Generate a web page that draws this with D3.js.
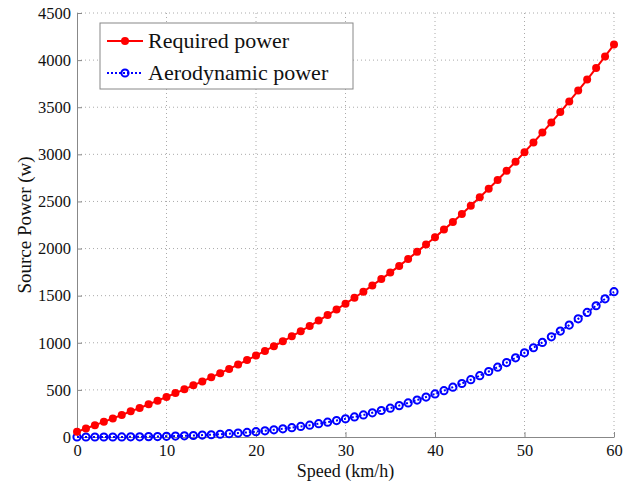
<!DOCTYPE html>
<html>
<head>
<meta charset="utf-8">
<script src="https://cdn.jsdelivr.net/npm/d3@7"></script>
<style>
  body { margin: 0; background: #fff; }
  svg text { font-family: "Liberation Serif", "Times New Roman", serif; }
</style>
</head>
<body>
<div id="chart"></div>
<script>
  var speeds = d3.range(0, 61);
  var requiredPower = [55, 90, 126, 161, 197, 234, 272, 308, 347, 386,
    425, 466, 506, 548, 590, 633, 677, 723, 769, 816,
    864, 913, 964, 1016, 1069, 1123, 1178, 1236, 1294, 1353,
    1415, 1478, 1542, 1609, 1676, 1745, 1816, 1890, 1965, 2042,
    2120, 2201, 2283, 2368, 2455, 2544, 2635, 2728, 2825, 2922,
    3023, 3125, 3231, 3338, 3448, 3561, 3677, 3794, 3915, 4039, 4165];
  var aeroPower = [0, 0, 0, 0, 0, 1, 2, 2, 4, 5,
    7, 10, 12, 16, 20, 24, 29, 35, 42, 49,
    57, 66, 76, 87, 99, 112, 125, 141, 157, 174,
    193, 213, 234, 257, 281, 306, 333, 362, 392, 424,
    457, 492, 529, 568, 608, 651, 695, 741, 790, 840,
    893, 947, 1004, 1063, 1124, 1188, 1254, 1322, 1393, 1466, 1542];
  var xTicks = [0, 10, 20, 30, 40, 50, 60];
  var yTicks = [0, 500, 1000, 1500, 2000, 2500, 3000, 3500, 4000, 4500];
  var seriesNames = ['Required power', 'Aerodynamic power'];

  var width = 643;
  var height = 483;
  var margin = { left: 77, right: 29, top: 13, bottom: 46 };
  var w = width - margin.left - margin.right;
  var h = height - margin.top - margin.bottom;

  var svg = d3.select('#chart')
    .append('svg')
    .attr('width', width)
    .attr('height', height);

  var g = svg.append('g')
    .attr('transform', 'translate(' + margin.left + ',' + margin.top + ')');

  var x = d3.scaleLinear().domain([0, 60]).range([0, w]);
  var y = d3.scaleLinear().domain([0, 4500]).range([h, 0]);

  // dotted grid
  g.append('g')
    .selectAll('line')
    .data(xTicks.slice(1))
    .enter().append('line')
    .attr('x1', function(d) { return x(d); })
    .attr('x2', function(d) { return x(d); })
    .attr('y1', 0).attr('y2', h)
    .attr('stroke', '#aaa')
    .attr('stroke-width', 1)
    .attr('stroke-dasharray', '1,3');

  g.append('g')
    .selectAll('line')
    .data(yTicks.slice(1))
    .enter().append('line')
    .attr('y1', function(d) { return y(d); })
    .attr('y2', function(d) { return y(d); })
    .attr('x1', 0).attr('x2', w)
    .attr('stroke', '#aaa')
    .attr('stroke-width', 1)
    .attr('stroke-dasharray', '1,3');

  // axes
  var fmt = d3.format('d');
  var xAxis = g.append('g')
    .attr('transform', 'translate(0,' + h + ')')
    .call(d3.axisBottom(x).tickValues(xTicks).tickFormat(fmt)
      .tickSizeInner(-5).tickSizeOuter(0).tickPadding(7));
  var yAxis = g.append('g')
    .call(d3.axisLeft(y).tickValues(yTicks).tickFormat(fmt)
      .tickSizeInner(-5).tickSizeOuter(0).tickPadding(6));

  [xAxis, yAxis].forEach(function(a) {
    a.attr('font-family', null).attr('font-size', 16.5);
    a.select('.domain').attr('stroke', '#888');
    a.selectAll('.tick line').attr('stroke', '#888');
    a.selectAll('.tick text')
      .attr('fill', '#111')
      .style('font-family', 'Liberation Serif');
  });

  // axis labels
  svg.append('text')
    .attr('x', margin.left + w / 2)
    .attr('y', 477)
    .attr('text-anchor', 'middle')
    .attr('font-size', 18)
    .attr('fill', '#111')
    .text('Speed (km/h)');

  svg.append('text')
    .attr('transform', 'translate(31,' + (margin.top + h / 2) + ') rotate(-90)')
    .attr('text-anchor', 'middle')
    .attr('font-size', 19)
    .attr('fill', '#111')
    .text('Source Power (w)');

  // lines
  var line = function(values) {
    return d3.line()
      .x(function(d, i) { return x(speeds[i]); })
      .y(function(d) { return y(d); })(values);
  };

  g.append('path')
    .attr('d', line(aeroPower))
    .attr('fill', 'none')
    .attr('stroke', '#0000ff')
    .attr('stroke-width', 2)
    .attr('stroke-dasharray', '2,2');

  g.append('g')
    .selectAll('circle')
    .data(aeroPower)
    .enter().append('circle')
    .attr('cx', function(d, i) { return x(speeds[i]); })
    .attr('cy', function(d) { return y(d); })
    .attr('r', 3.6)
    .attr('fill', 'none')
    .attr('stroke', '#0000ff')
    .attr('stroke-width', 2);

  g.append('path')
    .attr('d', line(requiredPower))
    .attr('fill', 'none')
    .attr('stroke', '#ff0000')
    .attr('stroke-width', 2);

  g.append('g')
    .selectAll('circle')
    .data(requiredPower)
    .enter().append('circle')
    .attr('cx', function(d, i) { return x(speeds[i]); })
    .attr('cy', function(d) { return y(d); })
    .attr('r', 4)
    .attr('fill', '#ff0000');

  // legend
  var legend = svg.append('g').attr('transform', 'translate(100,23)');
  legend.append('rect')
    .attr('width', 253).attr('height', 66)
    .attr('fill', '#fff')
    .attr('stroke', '#888');

  var items = legend.selectAll('.legend')
    .data(seriesNames)
    .enter().append('g')
    .attr('class', 'legend')
    .attr('transform', function(d, i) { return 'translate(0,' + (18 + i * 32) + ')'; });

  items.append('line')
    .attr('x1', 7).attr('x2', 43)
    .attr('stroke', function(d, i) { return i === 0 ? '#ff0000' : '#0000ff'; })
    .attr('stroke-width', 2)
    .attr('stroke-dasharray', function(d, i) { return i === 0 ? null : '2,2'; });

  items.append('circle')
    .attr('cx', 25)
    .attr('r', function(d, i) { return i === 0 ? 4 : 3.6; })
    .attr('fill', function(d, i) { return i === 0 ? '#ff0000' : 'none'; })
    .attr('stroke', function(d, i) { return i === 0 ? 'none' : '#0000ff'; })
    .attr('stroke-width', 2);

  items.append('text')
    .attr('x', 48)
    .attr('y', 7)
    .attr('font-size', 22)
    .attr('fill', '#111')
    .text(function(d) { return d; });
</script>
</body>
</html>
